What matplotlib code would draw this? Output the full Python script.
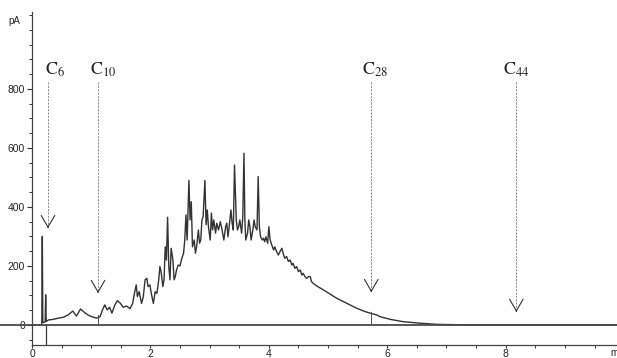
import numpy as np
import matplotlib
matplotlib.use("Agg")
import matplotlib.pyplot as plt
from matplotlib.ticker import MultipleLocator

# retention time (min) and detector signal (pA)
time_min = [0.00, 0.165, 0.174, 0.183, 0.222, 0.231, 0.240, 0.28, 0.36, 0.44, 0.53, 0.61, 0.69, 0.75,
            0.82, 0.90, 0.97, 1.04, 1.09, 1.15, 1.19, 1.23, 1.27, 1.31, 1.35, 1.40, 1.44, 1.49,
            1.54, 1.60, 1.655, 1.70, 1.73, 1.76, 1.78, 1.81, 1.85, 1.88, 1.91, 1.94, 1.96, 1.99,
            2.02, 2.05, 2.08, 2.11, 2.14, 2.16, 2.18, 2.21, 2.23, 2.25, 2.27, 2.29, 2.31, 2.33,
            2.35, 2.38, 2.40, 2.42, 2.44, 2.47, 2.50, 2.53, 2.56, 2.58, 2.60, 2.62, 2.65, 2.67,
            2.69, 2.71, 2.74, 2.76, 2.78, 2.81, 2.83, 2.85, 2.87, 2.89, 2.92, 2.94, 2.96, 2.98,
            3.01, 3.03, 3.05, 3.07, 3.10, 3.12, 3.15, 3.18, 3.20, 3.22, 3.24, 3.27, 3.29, 3.31,
            3.33, 3.36, 3.38, 3.40, 3.42, 3.45, 3.47, 3.49, 3.51, 3.54, 3.56, 3.58, 3.595, 3.61,
            3.64, 3.66, 3.68, 3.70, 3.73, 3.75, 3.77, 3.80, 3.82, 3.84, 3.86, 3.89, 3.91, 3.93,
            3.95, 3.98, 4.00, 4.02, 4.05, 4.08, 4.10, 4.13, 4.16, 4.19, 4.22, 4.25, 4.27, 4.30,
            4.33, 4.36, 4.39, 4.41, 4.44, 4.47, 4.50, 4.53, 4.56, 4.58, 4.61, 4.64, 4.67, 4.70,
            4.72, 4.75, 4.81, 4.92, 5.03, 5.15, 5.26, 5.37, 5.48, 5.60, 5.71, 5.82, 5.88, 6.05,
            6.27, 6.55, 6.84, 7.11, 7.40, 9.90]
signal_pa = [0, 0, 300, 8, 10, 102, 12, 17, 19, 23, 26, 34, 47, 30,
             54, 40, 31, 26, 23, 28, 51, 68, 51, 60, 40, 68, 82, 74,
             60, 64, 55, 73, 107, 136, 96, 113, 73, 96, 153, 158, 130, 136,
             102, 73, 113, 107, 153, 198, 181, 130, 153, 265, 220, 365, 198, 153,
             260, 220, 153, 164, 186, 203, 200, 226, 243, 288, 373, 288, 490, 356,
             418, 265, 288, 243, 265, 322, 277, 288, 356, 367, 490, 340, 390, 333,
             288, 379, 322, 356, 311, 345, 322, 350, 333, 311, 288, 333, 345, 299,
             333, 390, 345, 322, 542, 356, 322, 333, 356, 311, 367, 582, 356, 288,
             311, 356, 333, 288, 322, 356, 333, 322, 503, 333, 299, 288, 294, 282,
             299, 277, 333, 290, 271, 254, 265, 249, 237, 249, 260, 237, 226, 232,
             215, 220, 203, 209, 192, 198, 181, 186, 169, 175, 164, 158, 164, 164,
             147, 141, 132, 119, 105, 90, 79, 68, 57, 47, 40, 34, 28, 19,
             11, 6, 2, 1, 0, 0]

# alkane markers: name, retention time, arrow tip level (pA)
marker_labels = [r'$\mathrm{C}_{6}$', r'$\mathrm{C}_{10}$', r'$\mathrm{C}_{28}$', r'$\mathrm{C}_{44}$']
marker_time = [0.27, 1.115, 5.73, 8.18]
marker_tip = [328, 108, 111, 44]
label_time = [0.39, 1.20, 5.79, 8.18]

plt.rcParams['mathtext.fontset'] = 'stix'
plt.rcParams['font.family'] = ['Liberation Sans', 'DejaVu Sans']

fig = plt.figure(figsize=(6.17, 3.58), dpi=100)
ax = fig.add_axes([32 / 617, 13 / 358, 585 / 617, 333 / 358])

ax.plot(time_min, signal_pa, color='#333333', lw=1.0)
# zero baseline runs past the y axis, as on the recorder print
ax.axhline(0, xmin=-0.06, xmax=1, color='#4a4a4a', lw=1.3, clip_on=False)
ax.plot([0.235, 0.235], [-68, 0], color='#3a3a3a', lw=0.9)
ax.plot([1.115, 1.115], [0, 35], color='#555555', lw=0.7)
ax.plot([5.73, 5.73], [0, 45], color='#555555', lw=0.7)

for lab, t, tip, lt in zip(marker_labels, marker_time, marker_tip, label_time):
    ax.plot([t, t], [825, tip + 4], color='#777777', lw=0.6, ls=(0, (2.5, 1.5)))
    ax.annotate('', xy=(t, tip), xytext=(t, tip + 6),
                arrowprops=dict(arrowstyle='->,head_length=0.6,head_width=0.35',
                                color='#333333', lw=0.8, mutation_scale=14,
                                shrinkA=0, shrinkB=0))
    ax.text(lt, 835, lab, ha='center', va='bottom', fontsize=13, color='#222222')

ax.set_xlim(0, 9.88)
ax.set_ylim(-68, 1061)
ax.set_yticks([0, 200, 400, 600, 800])
ax.yaxis.set_minor_locator(MultipleLocator(50))
ax.set_xticks([0, 2, 4, 6, 8])
ax.xaxis.set_minor_locator(MultipleLocator(0.5))
ax.tick_params(axis='y', which='major', length=3.5, width=0.8, labelsize=7.5,
               colors='#333333', labelcolor='#222222', pad=1.5)
ax.tick_params(axis='x', which='major', length=2.5, width=0.8, labelsize=7.5,
               colors='#333333', labelcolor='#222222', pad=0.5)
ax.tick_params(axis='y', which='minor', length=2.2, width=0.7, colors='#333333')
ax.tick_params(axis='x', which='minor', length=2.0, width=0.7, colors='#333333')

for side in ['top', 'right']:
    ax.spines[side].set_visible(False)
for side in ['left', 'bottom']:
    ax.spines[side].set_color('#444444')
    ax.spines[side].set_linewidth(0.9)

fig.text(8 / 617, 1 - 21 / 358, 'pA', fontsize=7, color='#222222', va='center')
fig.text(610 / 617, 1 - 353 / 358, 'min', fontsize=7, color='#222222', va='center')

fig.savefig('out.png', dpi=100)
